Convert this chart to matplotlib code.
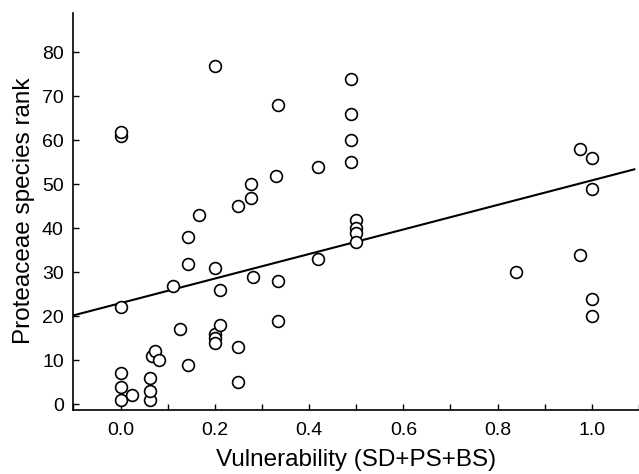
import numpy as np
import matplotlib
matplotlib.use("Agg")
import matplotlib.pyplot as plt

# values
vuln = [0.0, 0.0, 0.0, 0.0, 0.0, 0.0, 0.025,
        0.062, 0.062, 0.062, 0.066, 0.073, 0.082,
        0.112, 0.126, 0.144, 0.144, 0.144, 0.166,
        0.2, 0.2, 0.2, 0.2, 0.2, 0.21, 0.21,
        0.25, 0.25, 0.25, 0.277, 0.277, 0.28,
        0.33, 0.333, 0.333, 0.333, 0.419, 0.419,
        0.488, 0.488, 0.488, 0.488, 0.5, 0.5, 0.5, 0.5,
        0.838, 0.975, 0.975, 1.0, 1.0, 1.0, 1.0]
rank = [1, 4, 7, 22, 61, 62, 2,
        1, 3, 6, 11, 12, 10,
        27, 17, 38, 32, 9, 43,
        77, 31, 16, 15, 14, 26, 18,
        45, 13, 5, 50, 47, 29,
        52, 68, 28, 19, 54, 33,
        74, 66, 60, 55, 42, 40, 39, 37,
        30, 58, 34, 56, 49, 24, 20]

# fitted line as drawn in the figure
fit_intercept = 23.0
fit_slope = 27.9

XLIM = (-0.1, 1.09)
YLIM = (-1.2, 89)

plt.rcParams["font.family"] = ["Liberation Sans", "DejaVu Sans"]

fig = plt.figure(figsize=(6.39, 4.74), dpi=100)
ax = fig.add_axes([0.115, 0.136, 0.885, 0.837])

xl = np.array(XLIM)
ax.plot(xl, fit_intercept + fit_slope * xl, color="black", lw=1.5, zorder=2)
ax.plot(vuln, rank, "o", ms=8.5, mfc="white", mec="black", mew=1.2,
        linestyle="none", zorder=3)

ax.set_xlim(*XLIM)
ax.set_ylim(*YLIM)
ax.set_xticks(np.arange(0, 1.01, 0.2))
ax.set_xticks(np.arange(-0.1, 1.1, 0.1), minor=True)
ax.set_xticklabels([f"{v:.1f}" for v in np.arange(0, 1.01, 0.2)])
ax.set_yticks(np.arange(0, 81, 10))

for s in ("top", "right"):
    ax.spines[s].set_visible(False)
for s in ("left", "bottom"):
    ax.spines[s].set_linewidth(1.2)
ax.tick_params(axis="both", which="both", direction="in", length=4,
               width=1, labelsize=14)
ax.tick_params(axis="x", which="both", pad=9)
ax.tick_params(axis="y", pad=7)

ax.set_xlabel("Vulnerability (SD+PS+BS)", fontsize=17.5, labelpad=7)
ax.set_ylabel("Proteaceae species rank", fontsize=17.5, labelpad=5)

fig.savefig("out.png", dpi=100)
